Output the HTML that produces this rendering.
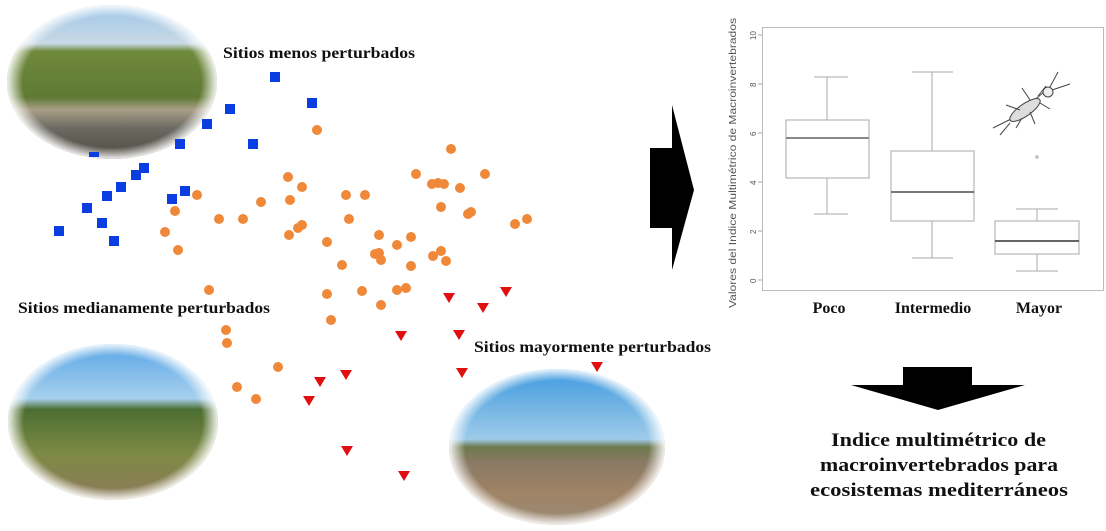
<!DOCTYPE html>
<html><head><meta charset="utf-8"><style>
html,body{margin:0;padding:0;background:#fff;}
svg{display:block;}
.t{font-family:"Liberation Serif",serif;font-weight:bold;fill:#111;}
</style></head><body>
<svg width="1106" height="531" viewBox="0 0 1106 531" xmlns="http://www.w3.org/2000/svg">
<defs>
<linearGradient id="p1" x1="0" y1="0" x2="0" y2="1">
<stop offset="0" stop-color="#9ec6e8"/><stop offset="0.25" stop-color="#c8d9e6"/><stop offset="0.3" stop-color="#6f8a3c"/><stop offset="0.6" stop-color="#5f7a34"/><stop offset="0.68" stop-color="#a89e86"/><stop offset="0.8" stop-color="#6b6a62"/><stop offset="1" stop-color="#4e4a40"/>
</linearGradient>
<linearGradient id="p2" x1="0" y1="0" x2="0" y2="1">
<stop offset="0" stop-color="#5aa6e6"/><stop offset="0.35" stop-color="#a7d0ee"/><stop offset="0.42" stop-color="#4c6e30"/><stop offset="0.7" stop-color="#7d8a45"/><stop offset="1" stop-color="#8e7a5a"/>
</linearGradient>
<linearGradient id="p3" x1="0" y1="0" x2="0" y2="1">
<stop offset="0" stop-color="#3e9ae0"/><stop offset="0.45" stop-color="#9fcbe9"/><stop offset="0.5" stop-color="#6d7a4c"/><stop offset="0.6" stop-color="#8a7a66"/><stop offset="0.8" stop-color="#a08466"/><stop offset="1" stop-color="#9a8a76"/>
</linearGradient>
<radialGradient id="fade"><stop offset="0.85" stop-color="#fff" stop-opacity="0"/><stop offset="1" stop-color="#fff" stop-opacity="0.9"/></radialGradient>
</defs>
<ellipse cx="112" cy="82" rx="105" ry="77" fill="url(#p1)"/>
<ellipse cx="112" cy="82" rx="105" ry="77" fill="url(#fade)"/>
<ellipse cx="113" cy="422" rx="105" ry="78" fill="url(#p2)"/>
<ellipse cx="113" cy="422" rx="105" ry="78" fill="url(#fade)"/>
<ellipse cx="557" cy="447" rx="108" ry="78" fill="url(#p3)"/>
<ellipse cx="557" cy="447" rx="108" ry="78" fill="url(#fade)"/>

<text class="t" x="223" y="58" font-size="15.5" textLength="192" lengthAdjust="spacingAndGlyphs">Sitios menos perturbados</text>
<text class="t" x="18" y="313" font-size="15.5" textLength="252" lengthAdjust="spacingAndGlyphs">Sitios medianamente perturbados</text>
<text class="t" x="474" y="352" font-size="15.5" textLength="237" lengthAdjust="spacingAndGlyphs">Sitios mayormente perturbados</text>

<g fill="#0a3ee0">
<rect x="270" y="72" width="10" height="10"/><rect x="307" y="98" width="10" height="10"/>
<rect x="225" y="104" width="10" height="10"/><rect x="202" y="119" width="10" height="10"/>
<rect x="175" y="139" width="10" height="10"/><rect x="248" y="139" width="10" height="10"/>
<rect x="139" y="163" width="10" height="10"/><rect x="131" y="170" width="10" height="10"/>
<rect x="116" y="182" width="10" height="10"/><rect x="102" y="191" width="10" height="10"/>
<rect x="82" y="203" width="10" height="10"/><rect x="97" y="218" width="10" height="10"/>
<rect x="54" y="226" width="10" height="10"/><rect x="109" y="236" width="10" height="10"/>
<rect x="180" y="186" width="10" height="10"/><rect x="167" y="194" width="10" height="10"/>
<rect x="89" y="152" width="10" height="5"/>
</g>
<g fill="#f0883a">
<circle cx="317" cy="130" r="5"/><circle cx="451" cy="149" r="5"/><circle cx="288" cy="177" r="5"/>
<circle cx="302" cy="187" r="5"/><circle cx="416" cy="174" r="5"/><circle cx="432" cy="184" r="5"/>
<circle cx="438" cy="183" r="5"/><circle cx="444" cy="184" r="5"/><circle cx="460" cy="188" r="5"/>
<circle cx="485" cy="174" r="5"/><circle cx="197" cy="195" r="5"/><circle cx="175" cy="211" r="5"/>
<circle cx="261" cy="202" r="5"/><circle cx="290" cy="200" r="5"/><circle cx="346" cy="195" r="5"/>
<circle cx="365" cy="195" r="5"/><circle cx="441" cy="207" r="5"/><circle cx="468" cy="214" r="5"/>
<circle cx="471" cy="212" r="5"/><circle cx="515" cy="224" r="5"/><circle cx="527" cy="219" r="5"/>
<circle cx="219" cy="219" r="5"/><circle cx="243" cy="219" r="5"/><circle cx="349" cy="219" r="5"/>
<circle cx="298" cy="228" r="5"/><circle cx="302" cy="225" r="5"/><circle cx="289" cy="235" r="5"/>
<circle cx="165" cy="232" r="5"/><circle cx="327" cy="242" r="5"/><circle cx="379" cy="235" r="5"/>
<circle cx="411" cy="237" r="5"/><circle cx="178" cy="250" r="5"/><circle cx="397" cy="245" r="5"/>
<circle cx="375" cy="254" r="5"/><circle cx="379" cy="253" r="5"/><circle cx="381" cy="260" r="5"/>
<circle cx="433" cy="256" r="5"/><circle cx="441" cy="251" r="5"/><circle cx="446" cy="261" r="5"/>
<circle cx="342" cy="265" r="5"/><circle cx="411" cy="266" r="5"/><circle cx="209" cy="290" r="5"/>
<circle cx="327" cy="294" r="5"/><circle cx="362" cy="291" r="5"/><circle cx="397" cy="290" r="5"/>
<circle cx="406" cy="288" r="5"/><circle cx="381" cy="305" r="5"/><circle cx="331" cy="320" r="5"/>
<circle cx="226" cy="330" r="5"/><circle cx="227" cy="343" r="5"/><circle cx="278" cy="367" r="5"/>
<circle cx="237" cy="387" r="5"/><circle cx="256" cy="399" r="5"/>
</g>
<g fill="#e01010">
<path d="M500,287h12l-6,10z"/><path d="M443,293h12l-6,10z"/><path d="M477,303h12l-6,10z"/>
<path d="M395,331h12l-6,10z"/><path d="M453,330h12l-6,10z"/><path d="M340,370h12l-6,10z"/>
<path d="M456,368h12l-6,10z"/><path d="M314,377h12l-6,10z"/><path d="M303,396h12l-6,10z"/>
<path d="M341,446h12l-6,10z"/><path d="M398,471h12l-6,10z"/><path d="M591,362h12l-6,10z"/>
</g>

<path d="M650,148h22v-43l22,85l-22,80v-42h-22z" fill="#000"/>
<path d="M903,367h69v18h53l-87,25l-87,-25h52z" fill="#000"/>

<g stroke="#aaa" fill="none" stroke-width="1">
<rect x="762.5" y="27.5" width="341" height="263" stroke="#bbb"/>
<line x1="758" y1="280" x2="762" y2="280"/><line x1="758" y1="231" x2="762" y2="231"/>
<line x1="758" y1="182" x2="762" y2="182"/><line x1="758" y1="133" x2="762" y2="133"/>
<line x1="758" y1="84" x2="762" y2="84"/><line x1="758" y1="35" x2="762" y2="35"/>
<rect x="786" y="120" width="83" height="58"/>
<line x1="827" y1="77" x2="827" y2="120"/><line x1="827" y1="178" x2="827" y2="214"/>
<line x1="814" y1="77" x2="848" y2="77"/><line x1="814" y1="214" x2="848" y2="214"/>
<line x1="786" y1="138" x2="869" y2="138" stroke="#888" stroke-width="2"/>
<rect x="891" y="151" width="83" height="70"/>
<line x1="932" y1="72" x2="932" y2="151"/><line x1="932" y1="221" x2="932" y2="258"/>
<line x1="912" y1="72" x2="953" y2="72"/><line x1="912" y1="258" x2="953" y2="258"/>
<line x1="891" y1="192" x2="974" y2="192" stroke="#777" stroke-width="2"/>
<rect x="995" y="221" width="84" height="33"/>
<line x1="1037" y1="209" x2="1037" y2="221"/><line x1="1037" y1="254" x2="1037" y2="271"/>
<line x1="1016" y1="209" x2="1058" y2="209"/><line x1="1016" y1="271" x2="1058" y2="271"/>
<line x1="995" y1="241" x2="1079" y2="241" stroke="#666" stroke-width="2"/>
<circle cx="1037" cy="157" r="1.2"/>
</g>
<g stroke="#444" fill="none" stroke-width="1">
<path d="M993,128l20,-10M1000,135l10,-12M1010,121l35,-30"/>
<ellipse cx="1025" cy="110" rx="18" ry="6" transform="rotate(-35 1025 110)" fill="#ddd"/>
<circle cx="1048" cy="92" r="5" fill="#eee"/>
<path d="M1052,90l18,-6M1050,87l8,-15M1030,100l-8,-12M1038,96l8,-10M1020,110l-14,-5M1030,112l5,12M1022,118l-6,10M1040,103l10,6"/>
</g>
<g font-family="Liberation Sans, sans-serif" font-size="8" fill="#555">
<text transform="translate(756,283) rotate(-90)">0</text>
<text transform="translate(756,234) rotate(-90)">2</text>
<text transform="translate(756,185) rotate(-90)">4</text>
<text transform="translate(756,136) rotate(-90)">6</text>
<text transform="translate(756,87) rotate(-90)">8</text>
<text transform="translate(756,40) rotate(-90)">10</text>
<text transform="translate(736,308) rotate(-90)" font-size="10.5" textLength="290" lengthAdjust="spacingAndGlyphs">Valores del Indice Multimétrico de Macroinvertebrados</text>
</g>
<text class="t" x="829" y="313" font-size="16" text-anchor="middle">Poco</text>
<text class="t" x="933" y="313" font-size="16" text-anchor="middle">Intermedio</text>
<text class="t" x="1039" y="313" font-size="16" text-anchor="middle">Mayor</text>

<g font-family="Liberation Serif, serif" font-size="19" fill="#111" font-weight="bold">
<text x="831" y="446" textLength="215" lengthAdjust="spacingAndGlyphs">Indice multimétrico de</text>
<text x="820" y="471" textLength="238" lengthAdjust="spacingAndGlyphs">macroinvertebrados para</text>
<text x="810" y="496" textLength="258" lengthAdjust="spacingAndGlyphs">ecosistemas mediterráneos</text>
</g>
</svg>
</body></html>
